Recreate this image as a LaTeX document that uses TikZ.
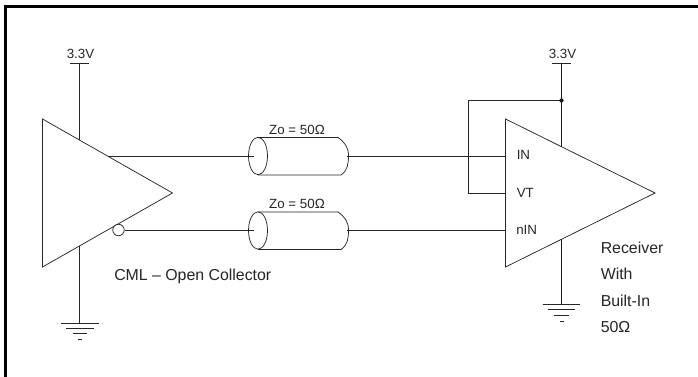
\documentclass[tikz,border=0pt]{standalone}
\usepackage{fontspec}
\setmainfont{Liberation Sans}
\tikzset{x=0.75pt,y=-0.75pt,
  wire/.style={line width=0.55pt,draw=black!85},
  wiredark/.style={line width=0.7pt,draw=black!90},
  lbl/.style={inner sep=0pt,text=black!85,font=\fontsize{11.9pt}{14pt}\selectfont},
  smalllbl/.style={inner sep=0pt,text=black!85,font=\fontsize{10pt}{12pt}\selectfont},
  dotnode/.style={circle,fill=black!90,inner sep=0pt,minimum size=3.2pt},
  bubblenode/.style={circle,draw=black!85,line width=0.55pt,fill=white,inner sep=0pt,minimum size=8.6pt}
}
\begin{document}
\begin{tikzpicture}
\useasboundingbox (0,0) rectangle (698,377);
\fill[white] (0,0) rectangle (698,377);
% frame
\draw[line width=2.1pt] (5.5,377) -- (5.5,6.5) -- (698,6.5);
% driver
\coordinate (dA) at (42.5,119);
\coordinate (dB) at (42.5,267);
\coordinate (dC) at (172.5,193);
\draw[wire] (dA) -- (dC) -- (dB) -- cycle;
% receiver
\coordinate (rA) at (505.5,119);
\coordinate (rB) at (505.5,267);
\coordinate (rC) at (655,193);
\draw[wire] (rA) -- (rC) -- (rB) -- cycle;
% supplies
\coordinate (v1) at (79.5,63.5);
\coordinate (v1b) at (79.5,140);
\draw[wire] (70,63.5) -- (89,63.5);
\draw[wire] (v1) -- (v1b);
\node[smalllbl,anchor=base] (v1t) at (80.5,58.5) {3.3V};
\coordinate (v2) at (561.5,63.5);
\coordinate (v2b) at (561.5,147);
\draw[wire] (552,63.5) -- (571,63.5);
\draw[wiredark] (v2) -- (v2b);
\node[smalllbl,anchor=base] (v2t) at (562.5,58.5) {3.3V};
% grounds
\coordinate (g1t) at (79.5,246);
\coordinate (g1) at (79.5,323);
\draw[wire] (g1t) -- (g1);
\draw[wire] (61,323) -- (98.5,323);
\draw[wire] (66,328.5) -- (93.5,328.5);
\draw[wire] (72.5,333.5) -- (87,333.5);
\draw[wire] (77.5,339.5) -- (81.5,339.5);
\coordinate (g2t) at (561.5,239.5);
\coordinate (g2) at (561.5,304.5);
\draw[wiredark] (g2t) -- (g2);
\draw[wire] (542.5,304.5) -- (580,304.5);
\draw[wire] (547.5,309.5) -- (575,309.5);
\draw[wire] (553.5,315) -- (569,315);
\draw[wire] (559.5,321) -- (563.5,321);
% bubble
\node[bubblenode] (bub) at (118.5,230) {};
% coax 1
\draw[wire] (258,137.5) -- (338,137.5) to[out=-35,in=90] (348.5,155.5) to[out=-90,in=35] (341,175) -- (258,175);
\draw[wire] (258,156) ellipse (9.5 and 18.7);
% coax 2
\draw[wire] (258,212) -- (338,212) to[out=-35,in=90] (348.5,230) to[out=-90,in=35] (341,249.5) -- (258,249.5);
\draw[wire] (258,230.5) ellipse (9.5 and 18.7);
% wires
\draw[wire] (108,156) -- (254,156);
\draw[wire] (bub.east) -- (254,230);
\draw[wire] (346.5,156) -- (505.5,156);
\draw[wire] (346.5,230) -- (505.5,230);
\draw[wire] (505.5,193) -- (468.5,193) -- (468.5,100.5) -- (561.5,100.5);
\node[dotnode] (dot) at (561.5,100.5) {};
% labels
\node[smalllbl] (z1) at (297,130) {Zo = 50Ω};
\node[smalllbl] (z2) at (297,203.5) {Zo = 50Ω};
\node[smalllbl,anchor=west] (in) at (516.5,155) {IN};
\node[smalllbl,anchor=west] (vt) at (516.5,192.5) {VT};
\node[smalllbl,anchor=west] (nin) at (516,229.5) {nIN};
\node[lbl,anchor=west] (cml) at (114,276.5) {CML – Open Collector};
\node[lbl,anchor=west] (r1) at (600.5,247.5) {Receiver};
\node[lbl,anchor=west] (r2) at (600.5,273.5) {With};
\node[lbl,anchor=west] (r3) at (600.5,300.5) {Built-In};
\node[lbl,anchor=west] (r4) at (600.5,327.5) {50Ω};
\end{tikzpicture}
\end{document}
